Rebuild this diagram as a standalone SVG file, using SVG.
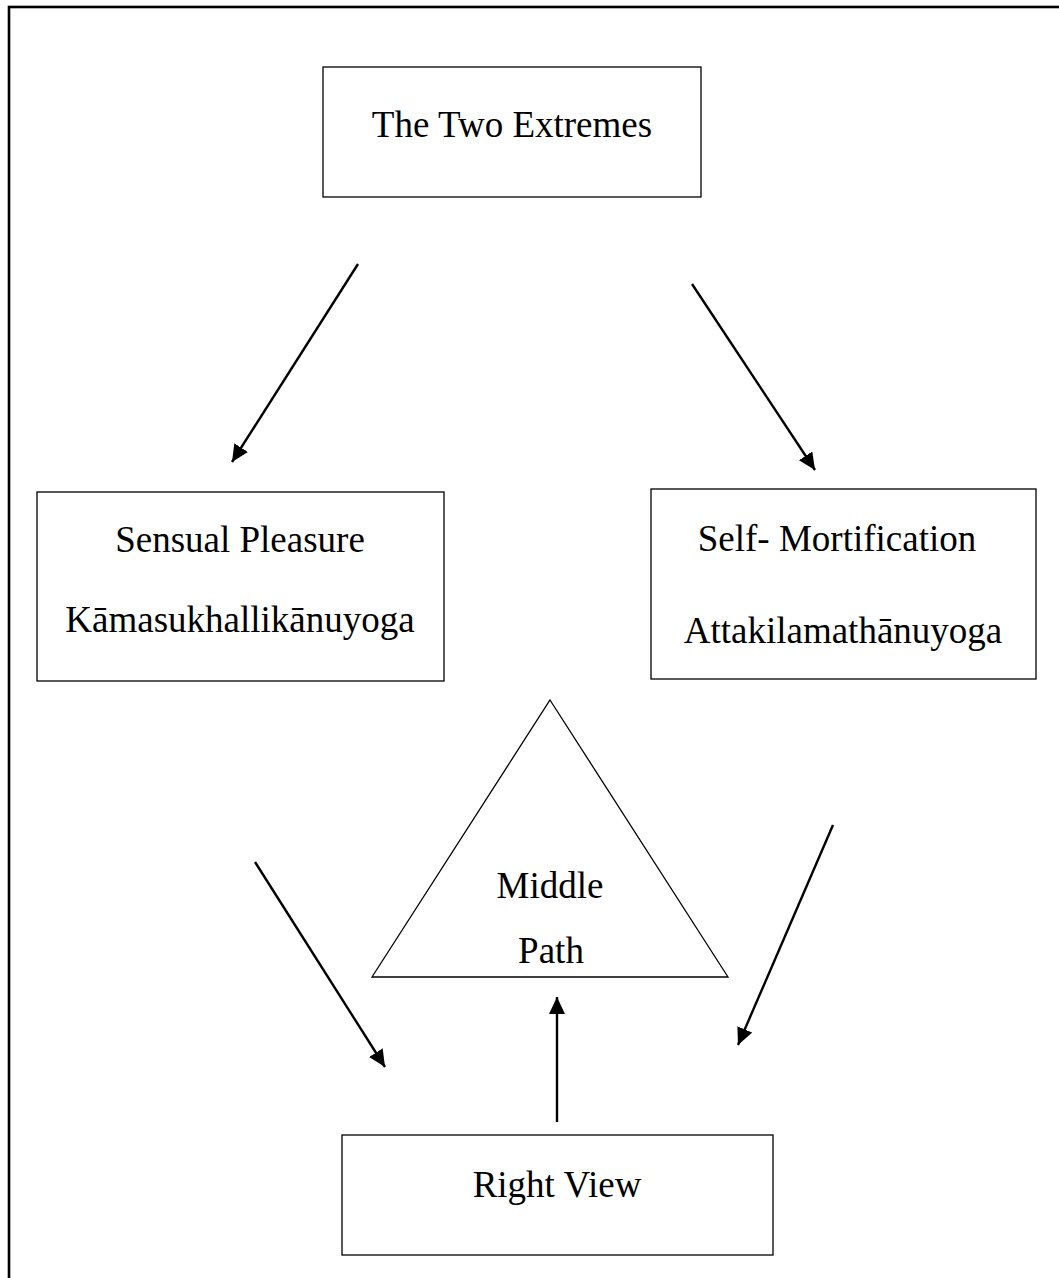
<svg xmlns="http://www.w3.org/2000/svg" width="1059" height="1278" viewBox="0 0 1059 1278">
  <style>
    .box { fill: #ffffff; stroke: #000000; stroke-width: 1.3; }
    .lbl { font-family: "Liberation Serif", "Times New Roman", serif; font-size: 37px; fill: #000000; text-anchor: middle; }
    .conn { stroke: #000000; stroke-width: 2.4; fill: none; marker-end: url(#arrow); }
  </style>
  <defs>
    <marker id="arrow" markerUnits="userSpaceOnUse" markerWidth="19" markerHeight="17" refX="17" refY="8" orient="auto">
      <path d="M0,0 L17,8 L0,16 z" fill="#000000"/>
    </marker>
  </defs>
  <rect width="1059" height="1278" fill="#ffffff"/>
  <rect id="frame" x="9" y="7" width="1070" height="1290" fill="none" stroke="#000000" stroke-width="2.6"/>

  <g id="two-extremes">
    <rect class="box" x="323" y="67" width="378" height="130"/>
    <text class="lbl" x="512" y="137">The Two Extremes</text>
  </g>

  <g id="sensual-pleasure">
    <rect class="box" x="37" y="492" width="407" height="189"/>
    <text class="lbl" x="240" y="552">Sensual Pleasure</text>
    <text class="lbl" x="240" y="632">Kāmasukhallikānuyoga</text>
  </g>

  <g id="self-mortification">
    <rect class="box" x="651" y="489" width="385" height="190"/>
    <text class="lbl" x="837" y="551">Self- Mortification</text>
    <text class="lbl" x="843" y="643">Attakilamathānuyoga</text>
  </g>

  <g id="middle-path">
    <polygon class="box" points="550,700 728,977 372,977"/>
    <text class="lbl" x="550" y="898">Middle</text>
    <text class="lbl" x="551" y="963">Path</text>
  </g>

  <g id="right-view">
    <rect class="box" x="342" y="1135" width="431" height="120"/>
    <text class="lbl" x="557" y="1197">Right View</text>
  </g>

  <g id="connectors">
    <line class="conn" x1="358" y1="264" x2="232" y2="462"/>
    <line class="conn" x1="692" y1="284" x2="815" y2="470"/>
    <line class="conn" x1="255" y1="862" x2="385" y2="1067"/>
    <line class="conn" x1="833" y1="825" x2="738" y2="1045"/>
    <line class="conn" x1="557" y1="1122" x2="557" y2="997"/>
  </g>
</svg>
